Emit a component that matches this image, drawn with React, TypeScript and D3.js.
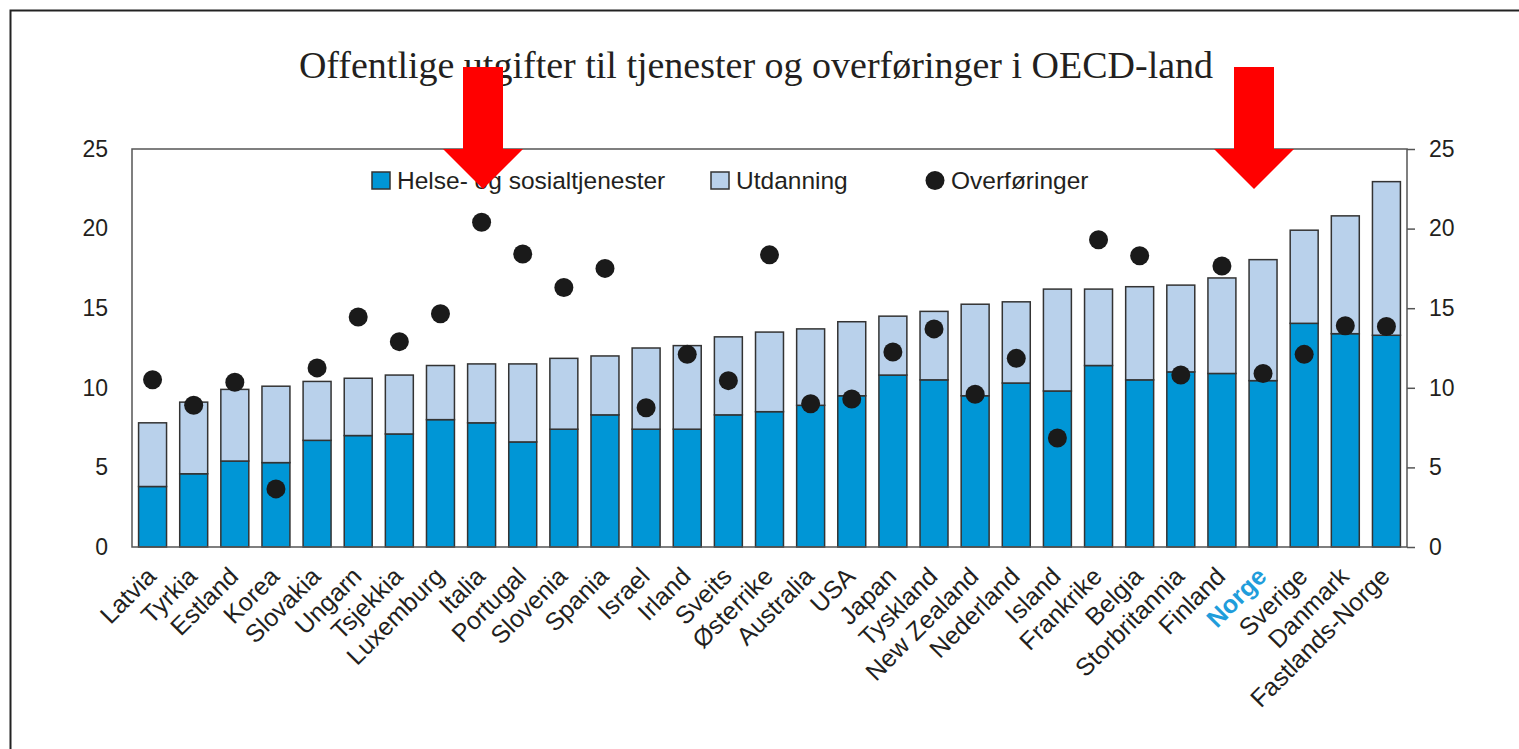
import React, { useEffect, useRef } from "react";
import * as d3 from "d3";

// land sortert etter samlet utgift til tjenester
const countries = [
  "Latvia", "Tyrkia", "Estland", "Korea", "Slovakia", "Ungarn", "Tsjekkia", "Luxemburg",
  "Italia", "Portugal", "Slovenia", "Spania", "Israel", "Irland", "Sveits", "Østerrike",
  "Australia", "USA", "Japan", "Tyskland", "New Zealand", "Nederland", "Island", "Frankrike",
  "Belgia", "Storbritannia", "Finland", "Norge", "Sverige", "Danmark", "Fastlands-Norge",
];

// prosent av BNP (lest av figuren)
const helse = [
  3.8, 4.6, 5.4, 5.3, 6.7, 7.0, 7.1, 8.0, 7.8, 6.6, 7.4, 8.3, 7.4, 7.4, 8.3, 8.5,
  8.9, 9.5, 10.8, 10.5, 9.5, 10.3, 9.8, 11.4, 10.5, 11.0, 10.9, 10.45, 14.05, 13.4, 13.3,
];
const utdanning = [
  4.0, 4.5, 4.5, 4.8, 3.7, 3.6, 3.7, 3.4, 3.7, 4.9, 4.45, 3.7, 5.1, 5.25, 4.9, 5.0,
  4.8, 4.65, 3.7, 4.3, 5.75, 5.1, 6.4, 4.8, 5.85, 5.45, 6.0, 7.6, 5.85, 7.4, 9.65,
];
const overforinger = [
  10.5, 8.9, 10.35, 3.65, 11.25, 14.45, 12.9, 14.65, 20.4, 18.4, 16.3, 17.5, 8.75, 12.1, 10.45, 18.35,
  9.0, 9.3, 12.25, 13.7, 9.6, 11.85, 6.85, 19.3, 18.3, 10.8, 17.65, 10.9, 12.1, 13.9, 13.85,
];
const yTicks = [0, 5, 10, 15, 20, 25];

const title = "Offentlige utgifter til tjenester og overføringer i OECD-land";
const legendLabels = ["Helse- og sosialtjenester", "Utdanning", "Overføringer"];

const W = 1519;
const H = 749;
const BLUE = "#0096d6";
const LIGHT = "#b9d1eb";
const INK = "#231f20";

function drawChart(svgEl) {
  const svg = d3.select(svgEl);
  svg.selectAll("*").remove();

  const left = 132, right = 1407, top = 149, bottom = 547;

  const x = d3.scaleBand()
    .domain(countries)
    .range([left, right])
    .paddingInner(0.32)
    .paddingOuter(0.16);
  const y = d3.scaleLinear().domain([0, 25]).range([bottom, top]);

  // ytre ramme
  svg.append("path")
    .attr("d", `M10.5,${H} V10.5 H${W}`)
    .attr("fill", "none")
    .attr("stroke", "#222")
    .attr("stroke-width", 2);

  // tittel
  svg.append("text")
    .attr("x", 756)
    .attr("y", 78)
    .attr("text-anchor", "middle")
    .attr("font-family", "'Liberation Serif', 'Times New Roman', serif")
    .attr("font-size", 38)
    .attr("fill", INK)
    .text(title);

  const data = countries.map((c, i) => ({
    c, h: helse[i], u: utdanning[i], o: overforinger[i],
  }));

  // stablede søyler
  const g = svg.append("g");
  g.selectAll("rect.helse")
    .data(data)
    .enter()
    .append("rect")
    .attr("x", d => x(d.c))
    .attr("width", x.bandwidth())
    .attr("y", d => y(d.h))
    .attr("height", d => y(0) - y(d.h))
    .attr("fill", BLUE)
    .attr("stroke", "#333")
    .attr("stroke-width", 1.5);

  g.selectAll("rect.utd")
    .data(data)
    .enter()
    .append("rect")
    .attr("x", d => x(d.c))
    .attr("width", x.bandwidth())
    .attr("y", d => y(d.h + d.u))
    .attr("height", d => y(d.h) - y(d.h + d.u))
    .attr("fill", LIGHT)
    .attr("stroke", "#333")
    .attr("stroke-width", 1.5);

  // overføringer som punkter
  g.selectAll("circle")
    .data(data)
    .enter()
    .append("circle")
    .attr("cx", d => x(d.c) + x.bandwidth() / 2)
    .attr("cy", d => y(d.o))
    .attr("r", 9.5)
    .attr("fill", "#1a1a1a");

  // plotramme og akser
  svg.append("rect")
    .attr("x", left)
    .attr("y", top)
    .attr("width", right - left)
    .attr("height", bottom - top)
    .attr("fill", "none")
    .attr("stroke", "#555")
    .attr("stroke-width", 1.5);

  const rightAxis = svg.append("g")
    .attr("transform", `translate(${right},0)`)
    .call(d3.axisRight(y).tickValues(yTicks).tickSize(8).tickPadding(14));
  rightAxis.select(".domain").remove();
  rightAxis.selectAll("line").attr("stroke", "#555").attr("stroke-width", 1.5);
  rightAxis.selectAll("text")
    .attr("font-family", "'Liberation Sans', Arial, sans-serif")
    .attr("font-size", 23)
    .attr("fill", INK);

  const leftAxis = svg.append("g")
    .attr("transform", `translate(${left},0)`)
    .call(d3.axisLeft(y).tickValues(yTicks).tickSize(0).tickPadding(24));
  leftAxis.select(".domain").remove();
  leftAxis.selectAll("text")
    .attr("font-family", "'Liberation Sans', Arial, sans-serif")
    .attr("font-size", 23)
    .attr("fill", INK);

  // kategorietiketter
  svg.append("g")
    .selectAll("text")
    .data(countries)
    .enter()
    .append("text")
    .attr("transform", d => `translate(${x(d) + x.bandwidth() / 2 + 5},578) rotate(-45)`)
    .attr("text-anchor", "end")
    .attr("font-family", "'Liberation Sans', Arial, sans-serif")
    .attr("font-size", 25)
    .attr("font-weight", d => (d === "Norge" ? "bold" : "normal"))
    .attr("fill", d => (d === "Norge" ? "#1f9ddb" : INK))
    .text(d => d);

  // tegnforklaring
  const lg = svg.append("g")
    .attr("font-family", "'Liberation Sans', Arial, sans-serif")
    .attr("font-size", 24.5)
    .attr("fill", INK);
  const items = [
    { label: legendLabels[0], kind: "rect", fill: BLUE, x: 372 },
    { label: legendLabels[1], kind: "rect", fill: LIGHT, x: 711 },
    { label: legendLabels[2], kind: "dot", fill: "#1a1a1a", x: 926 },
  ];
  items.forEach(it => {
    if (it.kind === "rect") {
      lg.append("rect")
        .attr("x", it.x).attr("y", 172)
        .attr("width", 18).attr("height", 17)
        .attr("fill", it.fill)
        .attr("stroke", "#333")
        .attr("stroke-width", 1.5);
    } else {
      lg.append("circle")
        .attr("cx", it.x + 9).attr("cy", 180.5)
        .attr("r", 9.5)
        .attr("fill", it.fill);
    }
    lg.append("text")
      .attr("x", it.x + 25)
      .attr("y", 189)
      .text(it.label);
  });

  // røde piler
  const arrow = cx =>
    `M${cx - 20},67 H${cx + 20} V149 H${cx + 40} L${cx},189 L${cx - 40},149 H${cx - 20} Z`;
  svg.selectAll("path.pil")
    .data([483, 1254])
    .enter()
    .append("path")
    .attr("d", d => arrow(d))
    .attr("fill", "#ff0000");
}

export default function App() {
  const svgRef = useRef(null);

  useEffect(() => {
    drawChart(svgRef.current);
  }, []);

  return (
    <svg
      ref={svgRef}
      width={W}
      height={H}
      style={{ position: "absolute", left: 0, top: 0, background: "#fff" }}
    />
  );
}
